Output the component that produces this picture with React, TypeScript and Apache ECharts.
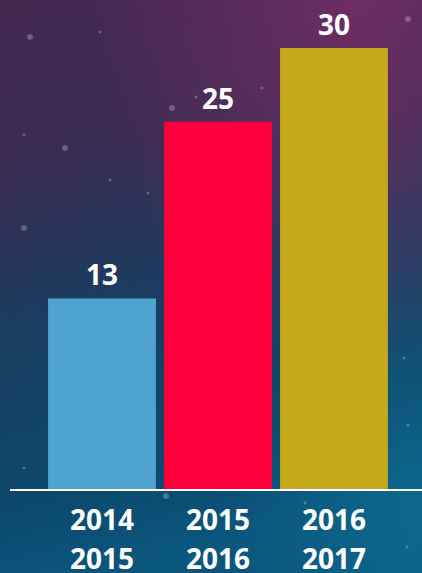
import React, { useEffect, useRef } from "react";
import * as echarts from "echarts";

const categories = ["2014\n2015", "2015\n2016", "2016\n2017"];
const values = [13, 25, 30];
const barColors = ["#4fa3d0", "#ff003c", "#c6a81b"];

export default function App() {
  const ref = useRef<HTMLDivElement>(null);
  useEffect(() => {
    if (!ref.current) return;
    const chart = echarts.init(ref.current, null, { renderer: "svg" });
    const font = "'Open Sans', 'DejaVu Sans', sans-serif";
    const dots = [
      [30, 37], [100, 32], [262, 88], [172, 108], [196, 97], [24, 135], [65, 148],
      [110, 180], [148, 193], [408, 19], [404, 358], [408, 425], [166, 496], [305, 503], [407, 547], [24, 228], [24, 468],
    ];
    const labelStyle = {
      color: "#ffffff",
      fontFamily: font,
      fontWeight: "bold",
      fontSize: 28,
    };
    chart.setOption({
      animation: false,
      backgroundColor: {
        type: "linear", x: 0, y: 0, x2: 0.2, y2: 1,
        colorStops: [
          { offset: 0, color: "#45294f" },
          { offset: 0.3, color: "#382c53" },
          { offset: 0.55, color: "#1a3d60" },
          { offset: 0.85, color: "#0c486c" },
          { offset: 1, color: "#0b567d" },
        ],
      },
      graphic: [
        {
          type: "rect", silent: true, z: -10,
          shape: { x: 0, y: 0, width: 422, height: 573 },
          style: {
            fill: {
              type: "radial", x: 0.85, y: 0.0, r: 0.65,
              colorStops: [
                { offset: 0, color: "rgba(115,45,100,0.9)" },
                { offset: 1, color: "rgba(115,45,100,0)" },
              ],
            },
          },
        },
        {
          type: "rect", silent: true, z: -10,
          shape: { x: 0, y: 0, width: 422, height: 573 },
          style: {
            fill: {
              type: "radial", x: 1.0, y: 0.9, r: 0.45,
              colorStops: [
                { offset: 0, color: "rgba(15,115,150,0.6)" },
                { offset: 1, color: "rgba(15,115,150,0)" },
              ],
            },
          },
        },
        ...dots.map(([x, y], i) => ({
          type: "circle", silent: true, z: -5,
          shape: { cx: x, cy: y, r: i % 3 === 0 ? 3 : 1.5 },
          style: { fill: "rgba(255,255,255,0.25)" },
        })),
        {
          type: "line", silent: true, z: 10,
          shape: { x1: 10, y1: 490, x2: 422, y2: 490 },
          style: { stroke: "#ffffff", lineWidth: 2 },
        },
      ],
      grid: { left: 44, width: 348, top: 48, bottom: 83, containLabel: false, outerBoundsMode: "none" },
      xAxis: {
        type: "category",
        data: categories,
        axisLine: { show: false },
        axisTick: { show: false },
        axisLabel: {
          margin: 5,
          verticalAlign: "top",
          formatter: (v: string) => {
            const [a, b] = v.split("\n");
            return `{a|${a}}\n{b|${b}}`;
          },
          rich: {
            a: { ...labelStyle, lineHeight: 48 },
            b: { ...labelStyle, lineHeight: 30 },
          },
        },
      },
      yAxis: {
        type: "value",
        min: 0,
        max: 30,
        show: false,
        splitLine: { show: false },
      },
      series: [
        {
          type: "bar",
          data: values.map((v, i) => ({ value: v, itemStyle: { color: barColors[i] } })),
          barCategoryGap: "7%",
          label: {
            show: true,
            position: "top",
            distance: 10,
            ...labelStyle,
          },
        },
      ],
    });
    return () => chart.dispose();
  }, []);
  return (
    <div
      ref={ref}
      style={{ position: "fixed", left: 0, top: 0, width: 422, height: 573 }}
    />
  );
}
